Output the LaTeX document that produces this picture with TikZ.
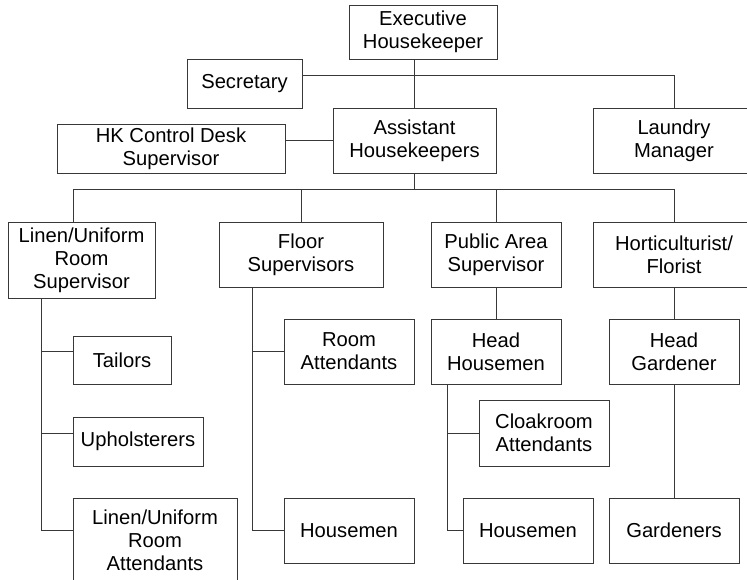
\documentclass[tikz,border=0pt]{standalone}
\usepackage{fontspec}
\setmainfont{Liberation Sans}
\begin{document}
\begin{tikzpicture}[x=1pt,y=-1pt,
  orgbox/.style={draw=black!78, line width=0.9pt, inner sep=0pt, align=center,
    font=\fontsize{20.2}{23}\selectfont, text=black},
  link/.style={draw=black!78, line width=0.9pt}]
\useasboundingbox (0,0) rectangle (747,579);
% \placebox{name}{x1}{y1}{x2}{y2}{text}: box given by its corners
\newcommand\placebox[6]{%
  \node[orgbox, minimum width={(#4-#2)*1pt}, minimum height={(#5-#3)*1pt}]
    (#1) at ({(#2+#4)/2},{(#3+#5)/2}) {#6};}
\placebox{exec}{349}{5}{497}{59}{Executive\\Housekeeper}
\placebox{sec}{187}{59}{302}{108}{Secretary}
\placebox{asst}{333}{108}{496}{173}{Assistant\\Housekeepers}
\placebox{hk}{57}{124}{285}{173}{HK Control Desk\\Supervisor}
\placebox{laundry}{593}{108}{755}{173}{Laundry\\Manager}
\placebox{linen}{8}{222}{155}{298}{Linen/Uniform\\Room\\Supervisor}
\placebox{floor}{219}{222}{383}{287}{Floor\\Supervisors}
\placebox{pub}{431}{222}{561}{287}{Public Area\\Supervisor}
\placebox{hort}{593}{222}{755}{287}{Horticulturist/\\Florist}
\placebox{tail}{73}{336}{171}{384}{Tailors}
\placebox{uph}{73}{417}{203}{466}{Upholsterers}
\placebox{lra}{73}{498}{237}{582}{Linen/Uniform\\Room\\Attendants}
\placebox{ra}{284}{319}{414}{384}{Room\\Attendants}
\placebox{hmA}{284}{498}{414}{563}{Housemen}
\placebox{hh}{431}{319}{561}{384}{Head\\Housemen}
\placebox{cloak}{479}{400}{609}{466}{Cloakroom\\Attendants}
\placebox{hmB}{463}{498}{593}{563}{Housemen}
\placebox{hg}{609}{319}{739}{384}{Head\\Gardener}
\placebox{gard}{609}{498}{739}{563}{Gardeners}

% top level
\coordinate (secline) at (0,75);
\draw[link] (asst.north) -- (asst.north |- exec.south);
\draw[link] (sec.east |- secline) -- (laundry.north |- secline) -- (laundry.north);
\draw[link] (hk.east |- asst.west) -- (asst.west);

% department bus
\coordinate (bus) at (73,189);
\draw[link] (bus |- linen.north) -- (bus) -- (bus -| hort.north) -- (hort.north);
\draw[link] (asst.south) -- (asst.south |- bus);
\draw[link] (floor.north) -- (floor.north |- bus);
\draw[link] (pub.north) -- (pub.north |- bus);

% linen room
\coordinate (lstem) at (41,298);
\draw[link] (lstem) -- (lstem |- hmA.west) -- (lra.west |- hmA.west);
\draw[link] (lstem |- ra.west) -- (tail.west |- ra.west);
\draw[link] (lstem |- cloak.west) -- (uph.west |- cloak.west);

% floors
\coordinate (fstem) at (252,287);
\draw[link] (fstem) -- (fstem |- hmA.west) -- (hmA.west);
\draw[link] (fstem |- ra.west) -- (ra.west);

% public areas
\draw[link] (pub.south) -- (hh.north);
\coordinate (hstem) at (447,384);
\draw[link] (hstem) -- (hstem |- hmB.west) -- (hmB.west);
\draw[link] (hstem |- cloak.west) -- (cloak.west);

% grounds
\draw[link] (hort.south) -- (hg.north);
\draw[link] (hg.south) -- (gard.north);
\end{tikzpicture}
\end{document}
